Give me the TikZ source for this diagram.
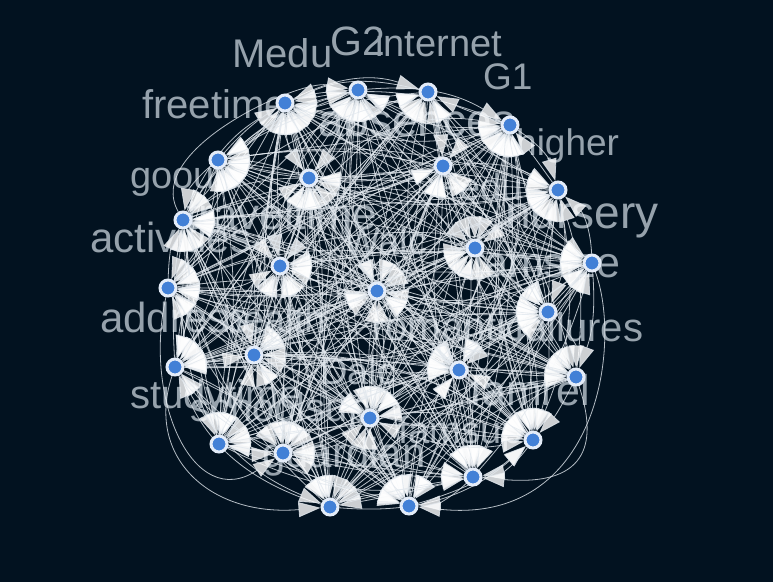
\documentclass[tikz,border=0pt]{standalone}
\usepackage{fontspec}
\setmainfont{Liberation Sans}
\usetikzlibrary{arrows.meta}
\definecolor{night}{RGB}{2,18,32}
\definecolor{dotblue}{RGB}{66,128,214}
\definecolor{ringwhite}{RGB}{228,236,248}
\definecolor{labelgray}{RGB}{150,162,172}
\definecolor{linkwhite}{RGB}{226,232,238}
\pgfdeclarelayer{back}
\pgfdeclarelayer{words}
\pgfdeclarelayer{links}
\pgfsetlayers{back,words,links,main}
\begin{document}
\begin{tikzpicture}[x=1pt, y=-1pt,
  vert/.style={circle, fill=dotblue, draw=ringwhite, line width=3pt, minimum size=16pt, inner sep=0pt},
  link/.style={draw=linkwhite, line width=0.8pt, opacity=0.8, -{Triangle[length=22pt,width=15pt,fill=white]}},
  lbl/.style={text=labelgray, inner sep=0pt, anchor=base west}]
  % background and frame
  \useasboundingbox (0,0) rectangle (773,582);
  \begin{pgfonlayer}{back}
    \fill[night] (0,0) rectangle (773,582);
  \end{pgfonlayer}

  % vertices
  \foreach \n/\x/\y in {1/285/103, 2/358/90, 3/428/92, 4/510/125, 5/218/160,
      6/309/178, 7/443/166, 8/558/190, 9/183/220, 10/280/266, 11/475/248,
      12/592/263, 13/377/291, 14/168/288, 15/548/312, 16/254/355, 17/175/367,
      18/459/370, 19/576/377, 20/370/418, 21/219/444, 22/283/453, 23/533/440,
      24/473/477, 25/330/507, 26/409/506}
    \node[vert] (v\n) at (\x,\y) {};

  % labels (behind the links)
  \begin{pgfonlayer}{words}
  \foreach \t/\x/\y/\s in {Medu/232/67/40, G2/330/55/41, internet/375/56/38,
      G1/483/89/37, freetime/142/118/40, absences/318/136/46, higher/516/155/37,
      goout/130/188/38, Fedu/436/200/38, nursery/505/228/46, traveltime/186/229/44,
      activities/90/252/42, Walc/344/254/38, famsize/472/277/43, address/100/332/42,
      health/222/332/38, romantic/372/340/40, failures/514/341/40, Dalc/320/384/38,
      famrel/470/405/43, studytime/130/408/40, schoolsup/190/421/40,
      famsup/398/443/38, guardian/262/467/42}
    \node[lbl, font=\fontsize{\s}{\s}\selectfont] (l-\t) at (\x,\y) {\t};
  \end{pgfonlayer}

  % links between every pair, some both ways
  \begin{pgfonlayer}{links}
  \pgfmathsetseed{17}
  \foreach \i in {1,...,25}{
    \pgfmathtruncatemacro\s{\i+1}
    \foreach \j in {\s,...,26}{
      \pgfmathsetmacro\bb{rnd*50-25}
      \pgfmathtruncatemacro\d{rnd<0.5}
      \ifnum\d=0
        \draw[link] (v\i) to[bend left=\bb] (v\j);
      \else
        \draw[link] (v\j) to[bend left=\bb] (v\i);
      \fi
      \pgfmathtruncatemacro\e{rnd<0.35}
      \ifnum\e=1
        \pgfmathsetmacro\cc{rnd*50-25}
        \ifnum\d=0
          \draw[link] (v\j) to[bend left=\cc] (v\i);
        \else
          \draw[link] (v\i) to[bend left=\cc] (v\j);
        \fi
      \fi
    }
  }
  % long links round the outside
  \draw[link] (v12) .. controls +(30,80) and +(190,20) .. (v26);
  \draw[link] (v19) .. controls +(20,60) and +(120,10) .. (v24);
  \draw[link] (v17) .. controls +(-30,90) and +(-120,10) .. (v25);
  \draw[link] (v14) .. controls +(-25,110) and +(-90,60) .. (v22);
  \draw[link] (v9) .. controls +(-40,-70) and +(-60,-10) .. (v2);
  \end{pgfonlayer}
\end{tikzpicture}
\end{document}
